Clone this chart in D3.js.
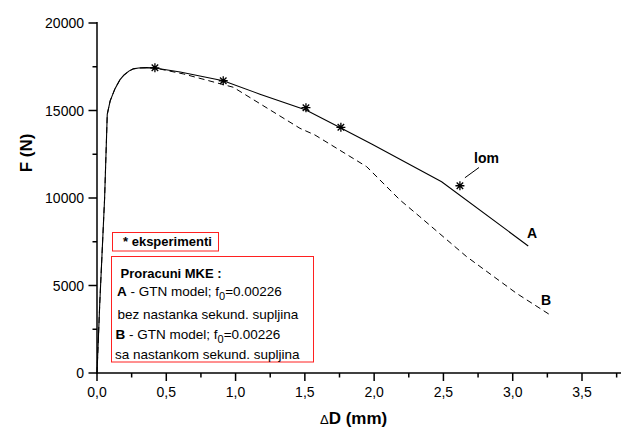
<!DOCTYPE html>
<html><head><meta charset="utf-8">
<script src="https://cdn.jsdelivr.net/npm/d3@7"></script>
<style>body{margin:0;background:#fff}svg{display:block}text{font-family:Arial,"Liberation Sans",sans-serif}</style>
</head><body>
<svg id="c" width="621" height="430"></svg>
<script>
// Curve A (solid): GTN model without secondary void nucleation
const curveA_x = [0, 0.02, 0.055, 0.074, 0.095, 0.13, 0.165, 0.195, 0.23, 0.262, 0.3, 0.36, 0.418, 0.6, 0.911, 1.176, 1.508, 1.76, 1.982, 2.487, 3.112];
const curveA_F = [0, 4000, 10000, 14780, 15550, 16250, 16750, 17030, 17250, 17380, 17430, 17450, 17430, 17200, 16700, 15930, 15030, 14000, 13090, 10930, 7260];
// Curve B (dashed): GTN model with secondary void nucleation
const curveB_x = [0, 0.02, 0.055, 0.074, 0.095, 0.13, 0.165, 0.195, 0.23, 0.262, 0.3, 0.36, 0.418, 0.623, 0.983, 1.465, 1.573, 1.946, 2.186, 2.33, 2.667, 3.028, 3.264];
const curveB_F = [0, 4000, 10000, 14780, 15550, 16250, 16750, 17030, 17250, 17380, 17430, 17450, 17430, 17090, 16330, 13980, 13600, 11790, 9890, 8930, 6650, 4550, 3350];
// Experimental points
const exp_x = [0.418, 0.911, 1.508, 1.76, 2.619];
const exp_F = [17440, 16700, 15160, 14040, 10700];
// Axis ticks
const xTicks = [0, 0.5, 1.0, 1.5, 2.0, 2.5, 3.0, 3.5];
const xMinor = [0.25, 0.75, 1.25, 1.75, 2.25, 2.75, 3.25, 3.75];
const yTicks = [0, 5000, 10000, 15000, 20000];
const yMinor = [2500, 7500, 12500, 17500];

const svg = d3.select("#c");
const x = d3.scaleLinear().domain([0, 3.5]).range([97, 582]);
const y = d3.scaleLinear().domain([0, 20000]).range([373, 23]);
const fmtX = v => d3.format(".1f")(v).replace(".", ",");

// X axis
const gx = svg.append("g").attr("transform", "translate(0,373)");
gx.append("line").attr("x1", 96).attr("x2", 621).attr("stroke", "#000").attr("stroke-width", 1.5);
gx.selectAll("line.maj").data(xTicks).join("line").attr("class","maj")
  .attr("x1", d => x(d)).attr("x2", d => x(d)).attr("y1", 0).attr("y2", 8).attr("stroke", "#000").attr("stroke-width", 1.5);
gx.selectAll("line.min").data(xMinor).join("line").attr("class","min")
  .attr("x1", d => x(d)).attr("x2", d => x(d)).attr("y1", 0).attr("y2", 4.5).attr("stroke", "#000").attr("stroke-width", 1.5);
gx.selectAll("text").data(xTicks).join("text")
  .attr("x", d => x(d)).attr("y", 24).attr("text-anchor", "middle").attr("font-size", 14).text(fmtX);

// Y axis
const gy = svg.append("g").attr("transform", "translate(97,0)");
gy.append("line").attr("y1", 22).attr("y2", 374).attr("stroke", "#000").attr("stroke-width", 1.5);
gy.selectAll("line.maj").data(yTicks).join("line").attr("class","maj")
  .attr("y1", d => y(d)).attr("y2", d => y(d)).attr("x1", 0).attr("x2", -8.5).attr("stroke", "#000").attr("stroke-width", 1.5);
gy.selectAll("line.min").data(yMinor).join("line").attr("class","min")
  .attr("y1", d => y(d)).attr("y2", d => y(d)).attr("x1", 0).attr("x2", -4.5).attr("stroke", "#000").attr("stroke-width", 1.5);
gy.selectAll("text").data(yTicks).join("text")
  .attr("x", -13).attr("y", d => y(d) + 5).attr("text-anchor", "end").attr("font-size", 14).text(d => d);

// Axis titles
svg.append("text").attr("transform", "translate(32,153) rotate(-90)").attr("text-anchor", "middle")
  .attr("font-size", 17).attr("font-weight", "bold").text("F (N)");
const xt = svg.append("text").attr("x", 320).attr("y", 424).attr("font-size", 17).attr("font-weight", "bold");
xt.append("tspan").attr("font-size", 13).attr("font-weight", "normal").text("\u0394");
xt.append("tspan").text("D (mm)");

// Curves
const line = d3.line().x(d => x(d[0])).y(d => y(d[1]));
const dataA = curveA_x.map((v, i) => [v, curveA_F[i]]);
const dataB = curveB_x.map((v, i) => [v, curveB_F[i]]);
svg.append("path").datum(dataB).attr("d", line).attr("fill", "none").attr("stroke", "#000")
  .attr("stroke-width", 1).attr("stroke-dasharray", "6,4");
svg.append("path").datum(dataA).attr("d", line).attr("fill", "none").attr("stroke", "#000").attr("stroke-width", 1.1);

// Experimental asterisks
const r = 4.5;
const star = `M${-r},0L${r},0M0,${-r}L0,${r}M${-r*0.72},${-r*0.72}L${r*0.72},${r*0.72}M${-r*0.72},${r*0.72}L${r*0.72},${-r*0.72}`;
svg.selectAll("path.star").data(exp_x.map((v, i) => [v, exp_F[i]])).join("path").attr("class", "star")
  .attr("transform", d => `translate(${x(d[0])},${y(d[1])})`).attr("d", star)
  .attr("stroke", "#000").attr("stroke-width", 1.3).attr("fill", "none");

// Annotations
svg.append("text").attr("x", 527).attr("y", 238).attr("font-size", 14).attr("font-weight", "bold").text("A");
svg.append("text").attr("x", 541).attr("y", 305).attr("font-size", 14).attr("font-weight", "bold").text("B");
svg.append("text").attr("x", 474).attr("y", 163).attr("font-size", 14).attr("font-weight", "bold").text("lom");
svg.append("line").attr("x1", x(exp_x[4]) + 5).attr("y1", y(exp_F[4]) - 8).attr("x2", 479).attr("y2", 167.5)
  .attr("stroke", "#000").attr("stroke-width", 1);

// Legend boxes
const red = "#ff2020";
svg.append("rect").attr("x", 112.5).attr("y", 232.5).attr("width", 106).attr("height", 18.5)
  .attr("fill", "#fff").attr("stroke", red).attr("stroke-width", 1);
svg.append("text").attr("x", 123).attr("y", 246).attr("font-size", 13).attr("font-weight", "bold").text("* eksperimenti");
svg.append("rect").attr("x", 111.5).attr("y", 256.5).attr("width", 202).attr("height", 105.5)
  .attr("fill", "#fff").attr("stroke", red).attr("stroke-width", 1);
svg.append("text").attr("x", 120.5).attr("y", 277.5).attr("font-size", 13).attr("font-weight", "bold").text("Proracuni MKE :");
function gtnLine(lbl, yy, xx) {
  const t = svg.append("text").attr("x", xx).attr("y", yy).attr("font-size", 13.5);
  t.append("tspan").attr("font-weight", "bold").text(lbl);
  t.append("tspan").text(" - GTN model; f");
  t.append("tspan").attr("dy", 4).attr("font-size", 11).text("0");
  t.append("tspan").attr("dy", -4).text("=0.00226");
}
gtnLine("A", 295.5, 117);
svg.append("text").attr("x", 117.5).attr("y", 318.5).attr("font-size", 13.5).text("bez nastanka sekund. supljina");
gtnLine("B", 338.5, 115.5);
svg.append("text").attr("x", 115).attr("y", 358.5).attr("font-size", 13.5).text("sa nastankom sekund. supljina");
</script>
</body></html>
